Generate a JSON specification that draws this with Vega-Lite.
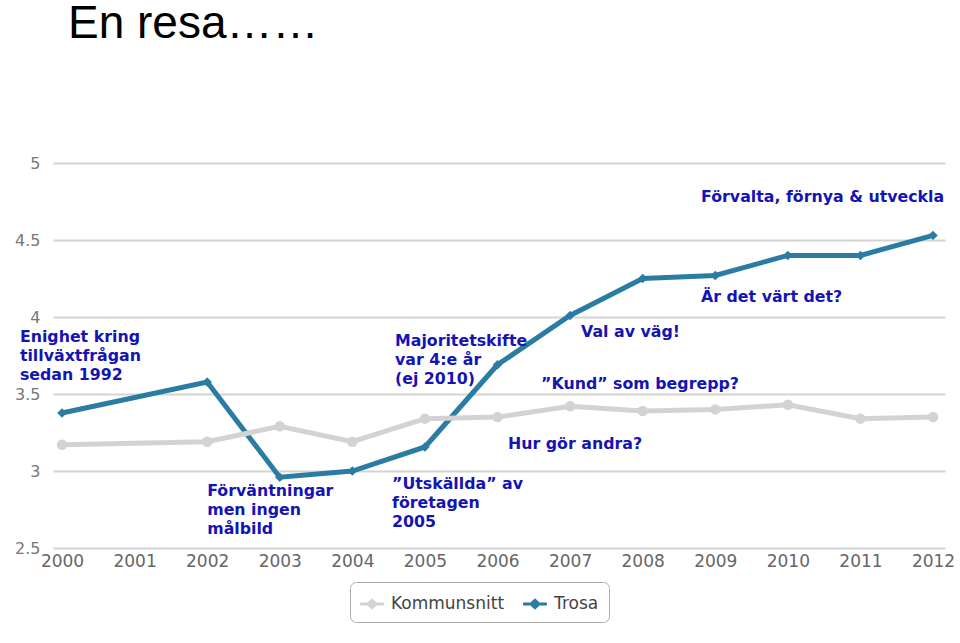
{
  "$schema": "https://vega.github.io/schema/vega-lite/v6.json",
  "autosize": "none",
  "width": 892,
  "height": 385,
  "padding": {"left": 53, "top": 163, "right": 15, "bottom": 95},
  "background": "white",
  "title": {"text": "En resa……", "anchor": "start", "frame": "group", "offset": 71, "dx": 15, "fontSize": 46, "font": "Liberation Sans", "fontWeight": "normal", "color": "#000000", "baseline": "alphabetic"},
  "datasets": {
    "series": [
      {"year": 2000, "series": "Trosa", "value": 3.377},
      {"year": 2002, "series": "Trosa", "value": 3.578},
      {"year": 2003, "series": "Trosa", "value": 2.96},
      {"year": 2004, "series": "Trosa", "value": 3.0},
      {"year": 2005, "series": "Trosa", "value": 3.156},
      {"year": 2006, "series": "Trosa", "value": 3.69},
      {"year": 2007, "series": "Trosa", "value": 4.01},
      {"year": 2008, "series": "Trosa", "value": 4.25},
      {"year": 2009, "series": "Trosa", "value": 4.27},
      {"year": 2010, "series": "Trosa", "value": 4.4},
      {"year": 2011, "series": "Trosa", "value": 4.4},
      {"year": 2012, "series": "Trosa", "value": 4.53},
      {"year": 2000, "series": "Kommunsnitt", "value": 3.17},
      {"year": 2002, "series": "Kommunsnitt", "value": 3.19},
      {"year": 2003, "series": "Kommunsnitt", "value": 3.29},
      {"year": 2004, "series": "Kommunsnitt", "value": 3.19},
      {"year": 2005, "series": "Kommunsnitt", "value": 3.34},
      {"year": 2006, "series": "Kommunsnitt", "value": 3.35},
      {"year": 2007, "series": "Kommunsnitt", "value": 3.42},
      {"year": 2008, "series": "Kommunsnitt", "value": 3.39},
      {"year": 2009, "series": "Kommunsnitt", "value": 3.40},
      {"year": 2010, "series": "Kommunsnitt", "value": 3.43},
      {"year": 2011, "series": "Kommunsnitt", "value": 3.34},
      {"year": 2012, "series": "Kommunsnitt", "value": 3.35}
    ],
    "notes": [
      {"year": 1999.42, "value": 3.916, "label": "Enighet kring\ntillväxtfrågan\nsedan 1992"},
      {"year": 2002.0, "value": 2.916, "label": "Förväntningar\nmen ingen\nmålbild"},
      {"year": 2004.588, "value": 3.89, "label": "Majoritetskifte\nvar 4:e år\n(ej 2010)"},
      {"year": 2004.547, "value": 2.961, "label": "”Utskällda” av\nföretagen\n2005"},
      {"year": 2007.151, "value": 3.948, "label": "Val av väg!"},
      {"year": 2006.6, "value": 3.61, "label": "”Kund” som begrepp?"},
      {"year": 2006.145, "value": 3.221, "label": "Hur gör andra?"},
      {"year": 2008.804, "value": 4.175, "label": "Är det värt det?"},
      {"year": 2008.804, "value": 4.825, "label": "Förvalta, förnya & utveckla"}
    ]
  },
  "encoding": {
    "x": {
      "field": "year", "type": "quantitative",
      "scale": {"domain": [1999.876, 2012.165], "nice": false, "zero": false},
      "axis": {"values": [2000, 2001, 2002, 2003, 2004, 2005, 2006, 2007, 2008, 2009, 2010, 2011, 2012], "format": "d", "title": null, "grid": false, "domain": false, "ticks": false, "labelPadding": 5, "labelFontSize": 17, "labelFont": "DejaVu Sans", "labelColor": "#666666"}
    },
    "y": {
      "field": "value", "type": "quantitative",
      "scale": {"domain": [2.5, 5], "nice": false, "zero": false},
      "axis": {"values": [2.5, 3, 3.5, 4, 4.5, 5], "format": "~g", "title": null, "grid": true, "gridColor": "#d4d4d4", "gridWidth": 2, "domain": false, "ticks": false, "labelPadding": 13, "labelFontSize": 16, "labelFont": "DejaVu Sans", "labelColor": "#777777"}
    }
  },
  "layer": [
    {
      "data": {"name": "series"},
      "mark": {"type": "line", "strokeWidth": 5, "clip": false},
      "encoding": {
        "color": {"field": "series", "type": "nominal", "scale": {"domain": ["Kommunsnitt", "Trosa"], "range": ["#d3d3d3", "#2b7ca3"]}}
      }
    },
    {
      "data": {"name": "series"},
      "transform": [{"filter": "datum.series === 'Kommunsnitt'"}],
      "mark": {"type": "point", "shape": "circle", "filled": true, "opacity": 1, "size": 110},
      "encoding": {
        "color": {"field": "series", "type": "nominal"}
      }
    },
    {
      "data": {"name": "series"},
      "transform": [{"filter": "datum.series === 'Trosa'"}],
      "mark": {"type": "point", "shape": "diamond", "filled": true, "opacity": 1, "size": 90},
      "encoding": {
        "color": {"field": "series", "type": "nominal"}
      }
    },
    {
      "data": {"name": "notes"},
      "mark": {"type": "text", "align": "left", "baseline": "top", "lineBreak": "\n", "lineHeight": 19, "font": "DejaVu Sans", "fontWeight": "bold", "fontSize": 15.8, "color": "#1414b4", "clip": false},
      "encoding": {
        "text": {"field": "label", "type": "nominal"}
      }
    }
  ],
  "resolve": {"legend": {"color": "shared"}},
  "config": {
    "view": {"stroke": null},
    "legend": {
      "title": null, "orient": "none", "legendX": 297, "legendY": 419, "direction": "horizontal",
      "strokeColor": "#aaaaaa", "cornerRadius": 6, "padding": 10, "fillColor": "white",
      "labelFontSize": 17, "labelFont": "DejaVu Sans", "labelColor": "#444444",
      "symbolType": "M-1,-0.09H-0.4L0,-0.45L0.4,-0.09H1V0.09H0.4L0,0.45L-0.4,0.09H-1Z",
      "symbolSize": 529, "symbolOpacity": 1, "symbolStrokeWidth": 1, "columnPadding": 16, "labelOffset": 7
    }
  }
}
